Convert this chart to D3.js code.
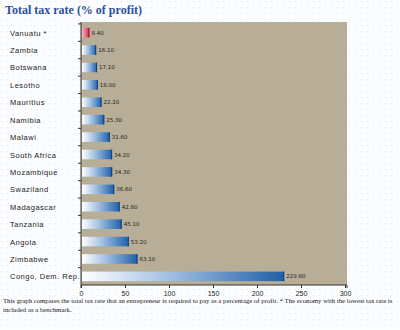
<!DOCTYPE html>
<html>
<head>
<meta charset="utf-8">
<script src="https://cdn.jsdelivr.net/npm/d3@7.9.0/dist/d3.min.js"></script>
<style>
  body { margin: 0; background: #fbfcfe; }
  svg { display: block; }
</style>
</head>
<body>
<svg id="chart" width="400" height="330"></svg>
<script>
const countries = ['Vanuatu *', 'Zambia', 'Botswana', 'Lesotho', 'Mauritius', 'Namibia', 'Malawi',
  'South Africa', 'Mozambique', 'Swaziland', 'Madagascar', 'Tanzania', 'Angola', 'Zimbabwe',
  'Congo, Dem. Rep.'];
const taxRates = [8.4, 16.1, 17.1, 18.0, 22.2, 25.3, 31.6, 34.2, 34.3, 36.6, 42.8, 45.1, 53.2, 63.1, 229.8];
const xTicks = [0, 50, 100, 150, 200, 250, 300];

const svg = d3.select('#chart');

// dotted page background
const defs = svg.append('defs');
const pat = defs.append('pattern').attr('id', 'dots')
  .attr('width', 6).attr('height', 6).attr('patternUnits', 'userSpaceOnUse');
pat.append('rect').attr('width', 6).attr('height', 6).attr('fill', '#fcfdff');
pat.append('rect').attr('x', 1).attr('y', 1).attr('width', 1).attr('height', 1).attr('fill', '#dfe6f0');
svg.append('rect').attr('width', 400).attr('height', 330).attr('fill', 'url(#dots)');

const blue = defs.append('linearGradient').attr('id', 'blueGrad');
blue.append('stop').attr('offset', '0%').attr('stop-color', '#ffffff');
blue.append('stop').attr('offset', '45%').attr('stop-color', '#9dbde0');
blue.append('stop').attr('offset', '100%').attr('stop-color', '#1f5fa8');
const red = defs.append('linearGradient').attr('id', 'redGrad');
red.append('stop').attr('offset', '0%').attr('stop-color', '#f4b8c4');
red.append('stop').attr('offset', '100%').attr('stop-color', '#c8284a');

svg.append('text').attr('x', 5).attr('y', 14)
  .attr('font-family', 'Liberation Serif, serif').attr('font-weight', 'bold')
  .attr('font-size', 12).attr('fill', '#2b4f9b')
  .text('Total tax rate (% of profit)');

const plotL = 81, plotR = 347, plotT = 22, plotB = 285;

const x = d3.scaleLinear().domain([0, 300]).range([plotL, plotR - 2]);
const y = d3.scaleBand().domain(countries).range([plotT + 2, plotB]).paddingInner(0.45).paddingOuter(0.22);

svg.append('rect').attr('x', plotL).attr('y', plotT).attr('width', plotR - plotL).attr('height', plotB - plotT)
  .attr('fill', '#b8ae97');

svg.selectAll('rect.bar').data(countries).join('rect').attr('class', 'bar')
  .attr('x', x(0) + 1)
  .attr('y', d => y(d))
  .attr('width', (d, i) => x(taxRates[i]) - x(0))
  .attr('height', y.bandwidth())
  .attr('fill', (d, i) => i === 0 ? 'url(#redGrad)' : 'url(#blueGrad)');

svg.selectAll('rect.end').data(countries).join('rect').attr('class', 'end')
  .attr('x', (d, i) => x(taxRates[i]))
  .attr('y', d => y(d))
  .attr('width', 1)
  .attr('height', y.bandwidth())
  .attr('fill', (d, i) => i === 0 ? '#a01030' : '#0d3f86');

svg.selectAll('text.val').data(countries).join('text').attr('class', 'val')
  .attr('x', (d, i) => x(taxRates[i]) + 3)
  .attr('y', d => y(d) + y.bandwidth() / 2 + 2)
  .attr('font-family', 'DejaVu Sans, sans-serif').attr('font-size', 5.5)
  .attr('fill', '#222')
  .text((d, i) => taxRates[i].toFixed(2));

svg.selectAll('text.cat').data(countries).join('text').attr('class', 'cat')
  .attr('x', 10)
  .attr('y', d => y(d) + y.bandwidth() / 2 + 3)
  .attr('font-family', 'Liberation Sans, Arial, sans-serif').attr('font-size', 7.5)
  .attr('letter-spacing', 0.5)
  .attr('fill', '#222')
  .text(d => d);

// y axis ticks between categories
const yAxis = svg.append('g');
yAxis.append('line').attr('x1', plotL).attr('x2', plotL).attr('y1', plotT).attr('y2', plotB).attr('stroke', '#333');
yAxis.selectAll('line.t').data(countries).join('line').attr('class', 't')
  .attr('x1', plotL - 3).attr('x2', plotL)
  .attr('y1', d => y(d) - y.step() * y.paddingInner() / 2)
  .attr('y2', d => y(d) - y.step() * y.paddingInner() / 2)
  .attr('stroke', '#333');

const xAxis = svg.append('g').attr('transform', `translate(0,${plotB})`)
  .call(d3.axisBottom(x).tickValues(xTicks).tickSize(3).tickPadding(3));
xAxis.select('.domain').attr('stroke', '#333').attr('d', `M${plotL},3V0H${plotR}V3`);
xAxis.selectAll('.tick line').attr('stroke', '#333');
xAxis.selectAll('text').attr('font-family', 'Liberation Sans, Arial, sans-serif').attr('font-size', 7).attr('fill', '#222');

const caption = ['This graph compares the total tax rate that an entrepreneur is required to pay as a percentage of profit. * The economy with the lowest tax rate is',
  'included as a benchmark.'];
const notes = svg.selectAll('text.note').data(caption).join('text').attr('class', 'note')
  .attr('x', 3).attr('y', (d, i) => 303 + i * 8.5)
  .attr('font-family', 'Liberation Serif, serif').attr('font-size', 7).attr('fill', '#222')
  .text(d => d);
// shrink the caption font so the long line fits the width
const longW = notes.nodes()[0].getComputedTextLength();
if (longW > 390) notes.attr('font-size', 7 * 390 / longW);
</script>
</body>
</html>
